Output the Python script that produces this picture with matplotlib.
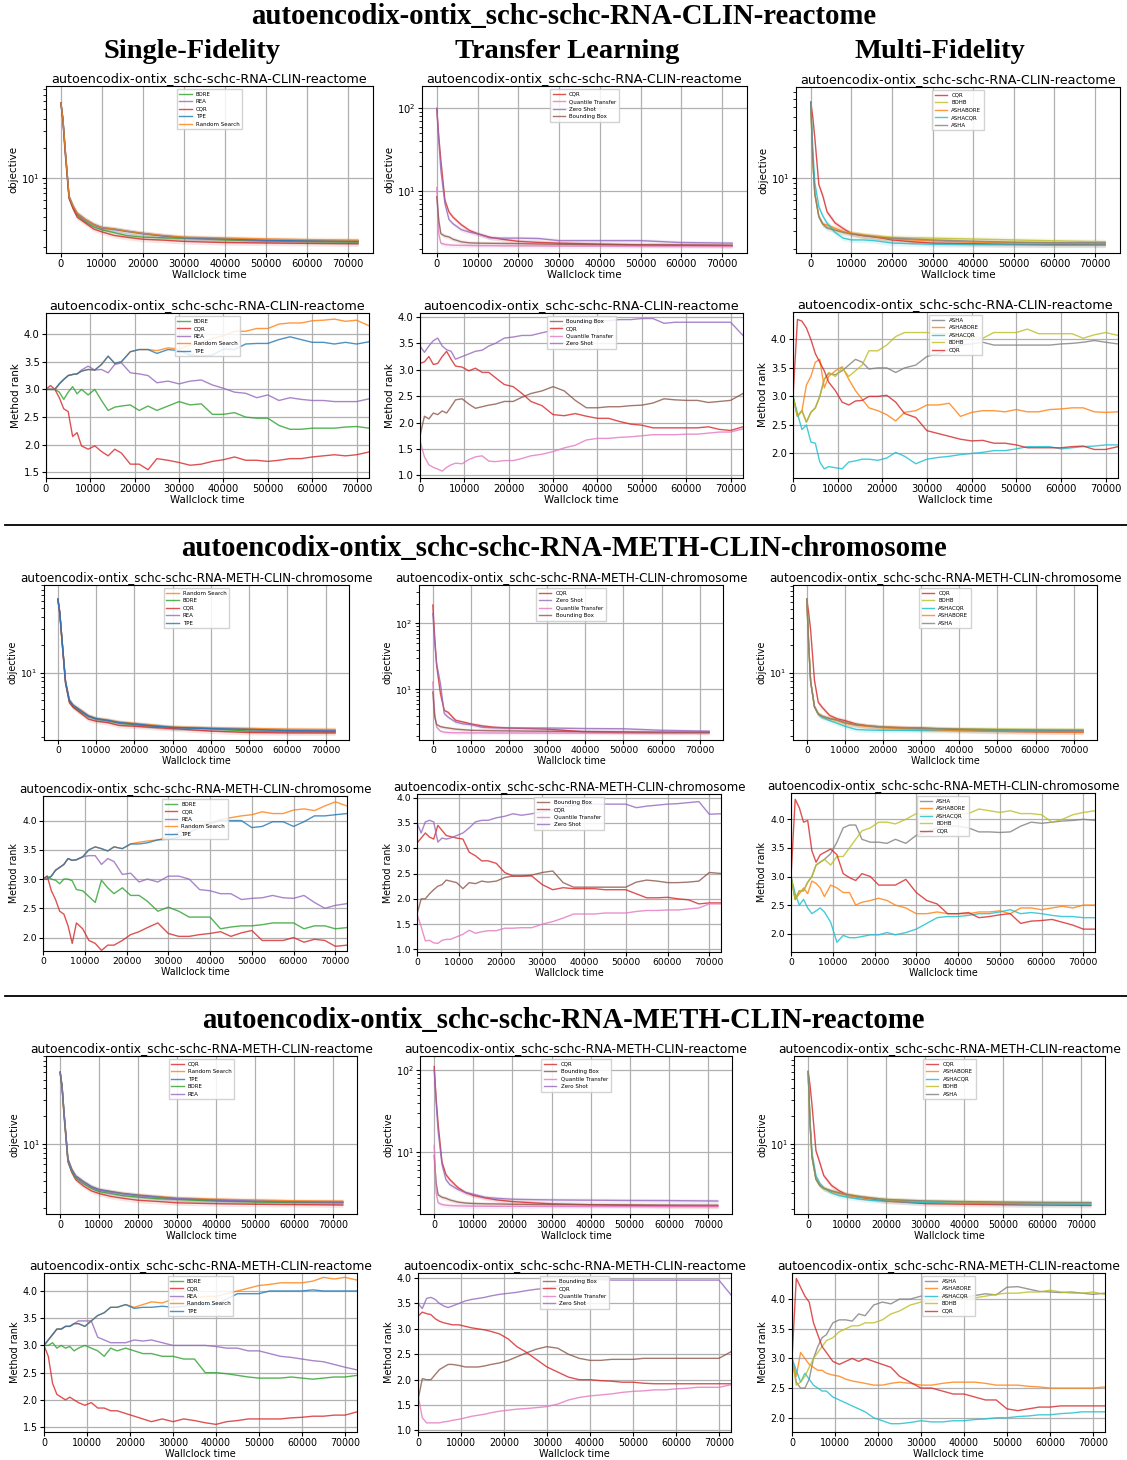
import matplotlib.pyplot as plt
from matplotlib.lines import Line2D

W, H = 1127, 1460

COLORS = {
    "TPE": "#1f77b4", "Random Search": "#ff7f0e", "BORE": "#2ca02c", "CQR": "#d62728",
    "REA": "#9467bd", "Bounding Box": "#8c564b", "Quantile Transfer": "#e377c2",
    "Zero Shot": "#9467bd", "ASHA": "#7f7f7f", "BOHB": "#bcbd22", "ASHACQR": "#17becf",
    "ASHABORE": "#ff7f0e",
}

datasets = [
    "autoencodix-ontix_schc-schc-RNA-CLIN-reactome",
    "autoencodix-ontix_schc-schc-RNA-METH-CLIN-chromosome",
    "autoencodix-ontix_schc-schc-RNA-METH-CLIN-reactome",
]
columns = ["Single-Fidelity", "Transfer Learning", "Multi-Fidelity"]

# time grids (seconds)
obj_t = [0, 500, 1000, 2000, 3000, 4000, 6000, 8000, 10000, 13000, 16000,
         20000, 25000, 30000, 40000, 50000, 60000, 72500]
rank_t = [0, 1000, 2000, 3000, 4000, 5000, 6000, 7000, 8000, 9500, 11000, 12500,
          14000, 15500, 17000, 19000, 21000, 23000, 25000, 27500, 30000, 32500,
          35000, 37500, 40000, 42500, 45000, 47500, 50000, 52500, 55000, 57500,
          60000, 62500, 65000, 67500, 70000, 72800]

# ---------------- RNA-CLIN-reactome ----------------
s1_sf_obj = {
    "BORE": [58, 39, 20, 6.3, 5.0, 4.2, 3.6, 3.2, 3.0, 2.8, 2.62, 2.52, 2.48, 2.45, 2.36, 2.3, 2.27, 2.24],
    "REA": [58, 40, 21, 6.5, 5.1, 4.3, 3.75, 3.35, 3.1, 3.0, 2.88, 2.72, 2.58, 2.48, 2.4, 2.33, 2.3, 2.27],
    "CQR": [58, 38, 19, 6.2, 4.85, 4.0, 3.5, 3.05, 2.85, 2.62, 2.52, 2.4, 2.35, 2.28, 2.22, 2.2, 2.18, 2.16],
    "TPE": [58, 40, 21, 6.5, 5.2, 4.4, 3.8, 3.4, 3.15, 3.05, 2.9, 2.75, 2.6, 2.5, 2.43, 2.35, 2.32, 2.3],
    "Random Search": [58, 40, 21, 6.5, 5.2, 4.4, 3.8, 3.4, 3.15, 3.05, 2.9, 2.75, 2.62, 2.52, 2.47, 2.42, 2.38, 2.35],
}
s1_tl_obj = {
    "CQR": [100, 45, 23.6, 7.7, 5.56, 4.8, 3.9, 3.33, 3.03, 2.75, 2.6, 2.45, 2.38, 2.33, 2.27, 2.22, 2.2, 2.17],
    "Quantile Transfer": [11, 3.0, 2.33, 2.25, 2.22, 2.2, 2.19, 2.18, 2.17, 2.17, 2.16, 2.16, 2.16, 2.15, 2.15, 2.15, 2.15, 2.15],
    "Zero Shot": [100, 40, 17.8, 7.0, 4.5, 4.0, 3.4, 3.17, 3.03, 2.7, 2.68, 2.68, 2.65, 2.5, 2.5, 2.5, 2.37, 2.33],
    "Bounding Box": [8.5, 4.4, 3.03, 2.84, 2.77, 2.6, 2.42, 2.35, 2.33, 2.32, 2.31, 2.3, 2.28, 2.26, 2.24, 2.22, 2.21, 2.2],
}
s1_mf_obj = {
    "CQR": [56, 40, 25, 8.6, 6.6, 4.65, 3.6, 3.17, 2.83, 2.7, 2.62, 2.45, 2.35, 2.28, 2.25, 2.22, 2.2, 2.2],
    "BOHB": [56, 15, 7.0, 4.15, 3.5, 3.3, 3.1, 2.95, 2.85, 2.75, 2.68, 2.6, 2.57, 2.55, 2.5, 2.45, 2.4, 2.35],
    "ASHABORE": [56, 15, 7.0, 4.15, 3.5, 3.45, 3.2, 2.95, 2.85, 2.72, 2.65, 2.5, 2.45, 2.4, 2.32, 2.3, 2.27, 2.25],
    "ASHACQR": [56, 20, 9.0, 5.2, 4.2, 3.6, 2.9, 2.55, 2.45, 2.45, 2.4, 2.28, 2.25, 2.22, 2.2, 2.19, 2.18, 2.18],
    "ASHA": [56, 15, 7.0, 4.15, 3.5, 3.2, 3.05, 2.9, 2.8, 2.7, 2.6, 2.55, 2.5, 2.45, 2.38, 2.33, 2.3, 2.3],
}
s1_sf_rank = {
    "BORE": [3.0, 3.0, 3.0, 2.95, 2.82, 2.95, 3.05, 2.92, 3.0, 2.9, 3.0, 2.8, 2.62, 2.68, 2.7, 2.72, 2.62, 2.7, 2.62,
             2.7, 2.78, 2.72, 2.74, 2.55, 2.55, 2.58, 2.5, 2.48, 2.48, 2.35, 2.28, 2.28, 2.3, 2.3, 2.3, 2.32, 2.33, 2.3],
    "CQR": [3.0, 3.07, 3.0, 2.85, 2.65, 2.6, 2.15, 2.22, 1.98, 1.92, 1.98, 1.88, 1.8, 1.92, 1.85, 1.65, 1.65, 1.55, 1.75,
            1.72, 1.68, 1.63, 1.65, 1.7, 1.73, 1.78, 1.72, 1.72, 1.7, 1.72, 1.75, 1.75, 1.78, 1.8, 1.82, 1.8, 1.82, 1.87],
    "REA": [3.0, 3.0, 3.0, 3.1, 3.18, 3.25, 3.27, 3.28, 3.35, 3.42, 3.35, 3.36, 3.3, 3.45, 3.48, 3.3, 3.28, 3.25, 3.12,
            3.15, 3.1, 3.15, 3.17, 3.08, 3.02, 2.95, 2.93, 2.85, 2.9, 2.8, 2.85, 2.82, 2.8, 2.8, 2.78, 2.78, 2.78, 2.83],
    "Random Search": [3.0, 3.0, 3.0, 3.1, 3.18, 3.25, 3.27, 3.28, 3.33, 3.36, 3.35, 3.45, 3.6, 3.47, 3.5, 3.68, 3.72,
                      3.72, 3.7, 3.75, 3.73, 3.8, 3.85, 3.92, 3.97, 4.05, 4.05, 4.1, 4.1, 4.18, 4.2, 4.2, 4.24, 4.25,
                      4.27, 4.23, 4.25, 4.15],
    "TPE": [3.0, 3.0, 3.0, 3.1, 3.18, 3.25, 3.27, 3.28, 3.33, 3.36, 3.35, 3.45, 3.6, 3.47, 3.5, 3.68, 3.72, 3.72, 3.65,
            3.72, 3.7, 3.62, 3.6, 3.62, 3.73, 3.72, 3.82, 3.83, 3.83, 3.9, 3.95, 3.9, 3.85, 3.85, 3.82, 3.85, 3.82, 3.86],
}
s1_tl_rank = {
    "Bounding Box": [1.75, 2.12, 2.07, 2.18, 2.15, 2.22, 2.18, 2.3, 2.43, 2.45, 2.35, 2.27, 2.3, 2.33, 2.35, 2.4, 2.4,
                     2.48, 2.55, 2.6, 2.68, 2.6, 2.42, 2.28, 2.28, 2.3, 2.3, 2.32, 2.33, 2.37, 2.45, 2.43, 2.42, 2.42,
                     2.38, 2.4, 2.42, 2.55],
    "CQR": [3.12, 3.15, 3.25, 3.1, 3.12, 3.25, 3.35, 3.2, 3.07, 3.05, 2.98, 3.03, 2.95, 2.95, 2.85, 2.72, 2.68, 2.55, 2.4,
            2.32, 2.15, 2.13, 2.17, 2.12, 2.08, 2.08, 2.02, 1.97, 1.95, 1.9, 1.9, 1.9, 1.9, 1.9, 1.92, 1.87, 1.85, 1.92],
    "Quantile Transfer": [1.65, 1.35, 1.2, 1.15, 1.12, 1.08, 1.15, 1.2, 1.23, 1.22, 1.3, 1.35, 1.37, 1.27, 1.26, 1.28,
                          1.28, 1.32, 1.37, 1.4, 1.45, 1.52, 1.57, 1.67, 1.7, 1.7, 1.72, 1.73, 1.75, 1.77, 1.77, 1.77,
                          1.78, 1.78, 1.8, 1.82, 1.82, 1.88],
    "Zero Shot": [3.45, 3.33, 3.45, 3.55, 3.6, 3.45, 3.38, 3.35, 3.2, 3.25, 3.3, 3.35, 3.37, 3.45, 3.5, 3.6, 3.62, 3.65,
                  3.65, 3.7, 3.75, 3.85, 3.9, 3.9, 3.92, 3.93, 3.95, 3.95, 3.97, 3.97, 3.88, 3.9, 3.9, 3.9, 3.9, 3.9,
                  3.9, 3.65],
}
s1_mf_rank = {
    "ASHA": [3.0, 2.65, 2.75, 2.55, 2.72, 2.8, 3.0, 3.3, 3.4, 3.38, 3.45, 3.55, 3.65, 3.6, 3.48, 3.5, 3.5, 3.42, 3.5,
             3.55, 3.7, 3.75, 3.82, 3.9, 3.92, 3.95, 3.9, 3.9, 3.9, 3.9, 3.9, 3.9, 3.92, 3.93, 3.95, 3.98, 3.95, 3.92],
    "ASHABORE": [3.0, 2.65, 2.75, 3.2, 3.35, 3.6, 3.65, 3.15, 3.35, 3.45, 3.52, 3.3, 3.1, 2.95, 2.8, 2.75, 2.68, 2.57,
                 2.72, 2.75, 2.85, 2.85, 2.88, 2.65, 2.72, 2.75, 2.75, 2.73, 2.77, 2.73, 2.73, 2.77, 2.78, 2.8, 2.8,
                 2.73, 2.72, 2.73],
    "ASHACQR": [3.0, 2.7, 2.42, 2.5, 2.2, 2.18, 1.85, 1.73, 1.77, 1.75, 1.73, 1.85, 1.87, 1.9, 1.9, 1.88, 1.92, 2.02,
                1.95, 1.82, 1.9, 1.93, 1.95, 1.98, 2.0, 2.02, 2.05, 2.05, 2.08, 2.12, 2.12, 2.12, 2.08, 2.1, 2.12,
                2.13, 2.15, 2.15],
    "BOHB": [3.0, 2.65, 2.75, 2.55, 2.72, 2.8, 3.0, 3.3, 3.42, 3.35, 3.5, 3.35, 3.45, 3.55, 3.8, 3.8, 3.9, 4.05, 4.12,
             4.12, 4.12, 4.1, 4.1, 4.05, 4.05, 4.02, 4.12, 4.12, 4.12, 4.18, 4.1, 4.1, 4.1, 4.1, 4.02, 4.08, 4.12, 4.07],
    "CQR": [3.0, 4.35, 4.32, 4.2, 4.0, 3.75, 3.6, 3.45, 3.25, 3.1, 2.9, 2.85, 2.92, 2.93, 3.0, 3.0, 3.02, 2.9, 2.7,
            2.63, 2.4, 2.35, 2.3, 2.25, 2.22, 2.23, 2.18, 2.18, 2.15, 2.1, 2.1, 2.1, 2.1, 2.12, 2.13, 2.07, 2.07, 2.12],
}

# ---------------- RNA-METH-CLIN-chromosome ----------------
s2_sf_obj = {
    "Random Search": [63, 45, 25, 8.0, 5.0, 4.4, 3.9, 3.4, 3.15, 3.05, 2.9, 2.8, 2.68, 2.55, 2.5, 2.46, 2.42, 2.4],
    "BORE": [63, 45, 25, 7.8, 4.8, 4.2, 3.7, 3.3, 3.1, 2.98, 2.8, 2.7, 2.6, 2.52, 2.44, 2.3, 2.28, 2.27],
    "CQR": [63, 44, 24, 7.6, 4.7, 4.2, 3.6, 3.1, 2.95, 2.85, 2.65, 2.6, 2.52, 2.45, 2.3, 2.22, 2.2, 2.2],
    "REA": [63, 45, 25, 8.0, 5.0, 4.4, 3.8, 3.35, 3.12, 3.0, 2.85, 2.75, 2.62, 2.52, 2.45, 2.4, 2.35, 2.33],
    "TPE": [63, 45, 25, 8.0, 5.0, 4.4, 3.85, 3.35, 3.15, 3.02, 2.85, 2.75, 2.62, 2.52, 2.45, 2.4, 2.33, 2.3],
}
s2_tl_obj = {
    "CQR": [190, 62, 23, 8.6, 4.8, 4.5, 3.4, 3.2, 3.0, 2.8, 2.67, 2.6, 2.55, 2.5, 2.27, 2.22, 2.2, 2.2],
    "Zero Shot": [142, 50, 24.5, 12.2, 4.3, 3.8, 3.2, 3.0, 2.93, 2.67, 2.62, 2.6, 2.6, 2.6, 2.55, 2.53, 2.4, 2.33],
    "Quantile Transfer": [12.9, 4.3, 2.67, 2.33, 2.25, 2.22, 2.2, 2.2, 2.19, 2.19, 2.18, 2.18, 2.18, 2.18, 2.18, 2.18, 2.18, 2.18],
    "Bounding Box": [9.1, 3.8, 2.93, 2.73, 2.65, 2.6, 2.5, 2.45, 2.4, 2.38, 2.36, 2.35, 2.33, 2.32, 2.3, 2.28, 2.26, 2.25],
}
s2_mf_obj = {
    "CQR": [65, 45, 29.5, 8.2, 4.7, 4.15, 3.36, 3.08, 2.95, 2.7, 2.58, 2.5, 2.47, 2.45, 2.33, 2.25, 2.22, 2.2],
    "BOHB": [65, 20, 8.0, 4.2, 3.5, 3.3, 3.1, 3.0, 2.8, 2.65, 2.58, 2.5, 2.46, 2.42, 2.4, 2.38, 2.36, 2.35],
    "ASHACQR": [65, 20, 8.0, 4.2, 3.45, 3.2, 2.95, 2.75, 2.55, 2.35, 2.32, 2.3, 2.3, 2.29, 2.29, 2.28, 2.28, 2.28],
    "ASHABORE": [65, 20, 8.0, 4.2, 3.5, 3.3, 3.1, 2.95, 2.75, 2.62, 2.55, 2.45, 2.4, 2.36, 2.28, 2.24, 2.22, 2.2],
    "ASHA": [65, 20, 8.0, 4.2, 3.5, 3.3, 3.1, 3.0, 2.8, 2.65, 2.58, 2.5, 2.45, 2.42, 2.38, 2.34, 2.32, 2.3],
}
s2_sf_rank = {
    "BORE": [3.0, 3.05, 3.0, 2.98, 2.92, 3.0, 3.0, 2.97, 2.82, 2.8, 2.7, 2.6, 2.98, 2.85, 2.75, 2.85, 2.72, 2.72, 2.62,
             2.45, 2.52, 2.45, 2.35, 2.35, 2.35, 2.15, 2.18, 2.2, 2.2, 2.22, 2.25, 2.25, 2.25, 2.15, 2.2, 2.2, 2.15, 2.17],
    "CQR": [3.0, 3.05, 2.8, 2.65, 2.45, 2.4, 2.2, 1.9, 2.25, 2.15, 1.95, 1.9, 1.78, 1.87, 1.87, 1.95, 2.05, 2.1, 2.17,
            2.25, 2.07, 2.02, 2.02, 2.05, 2.07, 2.1, 2.02, 2.08, 2.12, 1.95, 1.95, 1.95, 2.0, 1.92, 1.97, 1.95, 1.85, 1.87],
    "REA": [3.0, 3.0, 3.05, 3.15, 3.2, 3.25, 3.35, 3.32, 3.33, 3.38, 3.4, 3.4, 3.25, 3.35, 3.3, 3.08, 3.1, 2.95, 3.0,
            2.95, 3.05, 3.05, 3.0, 2.82, 2.8, 2.75, 2.75, 2.65, 2.67, 2.68, 2.72, 2.68, 2.67, 2.72, 2.6, 2.5, 2.55, 2.58],
    "Random Search": [3.0, 3.0, 3.05, 3.15, 3.2, 3.25, 3.35, 3.32, 3.33, 3.38, 3.5, 3.55, 3.52, 3.48, 3.55, 3.52, 3.6,
                      3.63, 3.65, 3.67, 3.72, 3.8, 3.88, 3.92, 3.97, 4.02, 4.05, 4.08, 4.1, 4.15, 4.12, 4.12, 4.18,
                      4.2, 4.17, 4.25, 4.32, 4.25],
    "TPE": [3.0, 3.0, 3.05, 3.15, 3.2, 3.25, 3.35, 3.32, 3.33, 3.38, 3.5, 3.55, 3.52, 3.48, 3.55, 3.52, 3.6, 3.6, 3.62,
            3.67, 3.68, 3.72, 3.8, 3.88, 3.95, 4.0, 4.0, 4.0, 3.88, 3.9, 3.98, 3.98, 3.9, 3.98, 4.08, 4.08, 4.1, 4.12],
}
s2_tl_rank = {
    "Bounding Box": [1.7, 2.0, 2.0, 2.1, 2.18, 2.25, 2.28, 2.37, 2.35, 2.32, 2.2, 2.32, 2.3, 2.35, 2.33, 2.35, 2.42,
                     2.45, 2.45, 2.47, 2.52, 2.55, 2.32, 2.23, 2.23, 2.23, 2.23, 2.23, 2.23, 2.33, 2.37, 2.35, 2.32,
                     2.32, 2.33, 2.35, 2.52, 2.5],
    "CQR": [3.1, 3.2, 3.3, 3.22, 3.18, 3.45, 3.35, 3.25, 3.23, 3.2, 3.18, 2.92, 2.85, 2.75, 2.75, 2.7, 2.52, 2.45, 2.45,
            2.45, 2.28, 2.18, 2.22, 2.2, 2.2, 2.2, 2.18, 2.18, 2.18, 2.1, 2.02, 2.02, 2.03, 2.0, 1.98, 1.9, 1.92, 1.92],
    "Quantile Transfer": [1.7, 1.45, 1.17, 1.18, 1.13, 1.12, 1.18, 1.2, 1.2, 1.25, 1.3, 1.38, 1.32, 1.35, 1.37, 1.37,
                          1.42, 1.42, 1.43, 1.43, 1.5, 1.55, 1.62, 1.7, 1.7, 1.7, 1.72, 1.72, 1.72, 1.75, 1.77, 1.77,
                          1.78, 1.78, 1.8, 1.82, 1.9, 1.9],
    "Zero Shot": [3.5, 3.3, 3.52, 3.55, 3.52, 3.12, 3.2, 3.18, 3.2, 3.25, 3.3, 3.4, 3.52, 3.55, 3.55, 3.6, 3.63, 3.68,
                  3.65, 3.68, 3.72, 3.75, 3.82, 3.85, 3.85, 3.87, 3.87, 3.87, 3.87, 3.8, 3.83, 3.85, 3.87, 3.88, 3.9,
                  3.92, 3.67, 3.68],
}
s2_mf_rank = {
    "ASHA": [3.0, 2.6, 2.75, 2.75, 2.9, 3.0, 3.2, 3.25, 3.3, 3.4, 3.6, 3.85, 3.9, 3.9, 3.65, 3.6, 3.6, 3.58, 3.65,
             3.58, 3.72, 3.78, 3.85, 3.88, 3.88, 3.85, 3.78, 3.78, 3.77, 3.78, 3.88, 3.95, 3.93, 3.95, 3.97, 3.98,
             4.0, 3.98],
    "ASHABORE": [3.0, 2.6, 2.7, 2.8, 2.7, 2.92, 2.88, 2.8, 2.65, 2.85, 2.8, 2.72, 2.72, 2.5, 2.55, 2.58, 2.62, 2.58,
                 2.5, 2.45, 2.35, 2.35, 2.38, 2.35, 2.35, 2.35, 2.38, 2.38, 2.4, 2.35, 2.45, 2.45, 2.42, 2.45, 2.48,
                 2.45, 2.5, 2.5],
    "ASHACQR": [3.0, 2.7, 2.5, 2.6, 2.45, 2.35, 2.4, 2.45, 2.38, 2.2, 1.85, 1.97, 1.93, 1.93, 1.95, 1.98, 1.98, 2.02,
                1.98, 2.02, 2.08, 2.18, 2.28, 2.3, 2.3, 2.32, 2.35, 2.35, 2.38, 2.42, 2.35, 2.37, 2.35, 2.32, 2.3,
                2.3, 2.28, 2.28],
    "BOHB": [3.0, 2.6, 2.75, 2.75, 2.9, 3.0, 3.2, 3.25, 3.3, 3.2, 3.35, 3.35, 3.5, 3.65, 3.8, 3.85, 3.95, 3.95, 3.92,
             4.0, 4.1, 4.08, 4.08, 4.15, 4.1, 4.1, 4.18, 4.15, 4.12, 4.15, 4.1, 4.1, 4.08, 3.95, 4.0, 4.08, 4.12, 4.15],
    "CQR": [3.0, 4.35, 4.2, 3.95, 3.98, 3.45, 3.25, 3.38, 3.42, 3.48, 3.38, 3.05, 2.98, 2.93, 3.05, 3.0, 2.85, 2.85,
            2.85, 2.95, 2.72, 2.58, 2.52, 2.35, 2.35, 2.37, 2.28, 2.3, 2.33, 2.35, 2.18, 2.22, 2.23, 2.25, 2.2, 2.15,
            2.08, 2.08],
}

# ---------------- RNA-METH-CLIN-reactome ----------------
s3_sf_obj = {
    "CQR": [60, 40, 20, 6.4, 4.9, 4.1, 3.5, 3.1, 2.9, 2.7, 2.58, 2.45, 2.38, 2.3, 2.25, 2.22, 2.2, 2.18],
    "Random Search": [60, 42, 22, 6.8, 5.3, 4.5, 3.9, 3.45, 3.2, 3.05, 2.92, 2.8, 2.7, 2.6, 2.52, 2.47, 2.42, 2.4],
    "TPE": [60, 42, 22, 6.8, 5.3, 4.5, 3.9, 3.45, 3.2, 3.05, 2.9, 2.78, 2.65, 2.55, 2.45, 2.38, 2.35, 2.33],
    "BORE": [60, 41, 21, 6.5, 5.0, 4.3, 3.7, 3.3, 3.05, 2.9, 2.75, 2.65, 2.55, 2.5, 2.4, 2.35, 2.32, 2.3],
    "REA": [60, 42, 22, 6.8, 5.2, 4.4, 3.85, 3.4, 3.15, 3.0, 2.88, 2.75, 2.65, 2.55, 2.47, 2.4, 2.36, 2.33],
}
s3_tl_obj = {
    "CQR": [110, 45, 22, 7.5, 5.3, 4.6, 3.7, 3.2, 2.95, 2.75, 2.6, 2.48, 2.4, 2.33, 2.27, 2.23, 2.2, 2.18],
    "Bounding Box": [9.0, 4.2, 3.0, 2.8, 2.72, 2.6, 2.45, 2.38, 2.35, 2.33, 2.32, 2.3, 2.29, 2.28, 2.27, 2.26, 2.25, 2.24],
    "Quantile Transfer": [12, 3.2, 2.4, 2.28, 2.24, 2.22, 2.2, 2.19, 2.18, 2.18, 2.17, 2.17, 2.17, 2.16, 2.16, 2.16, 2.16, 2.16],
    "Zero Shot": [100, 40, 18, 7.0, 4.6, 4.0, 3.5, 3.2, 3.05, 2.8, 2.72, 2.65, 2.62, 2.6, 2.58, 2.56, 2.55, 2.52],
}
s3_mf_obj = {
    "CQR": [60, 42, 26, 8.5, 6.3, 4.6, 3.6, 3.15, 2.85, 2.7, 2.6, 2.45, 2.38, 2.3, 2.27, 2.24, 2.22, 2.2],
    "ASHABORE": [60, 16, 7.2, 4.2, 3.6, 3.35, 3.1, 2.95, 2.82, 2.7, 2.62, 2.52, 2.47, 2.42, 2.38, 2.35, 2.33, 2.32],
    "ASHACQR": [60, 18, 8.0, 4.6, 3.8, 3.4, 3.0, 2.8, 2.7, 2.58, 2.5, 2.45, 2.4, 2.36, 2.33, 2.3, 2.28, 2.27],
    "BOHB": [60, 16, 7.2, 4.2, 3.6, 3.35, 3.15, 3.0, 2.88, 2.75, 2.65, 2.55, 2.5, 2.45, 2.4, 2.38, 2.36, 2.35],
    "ASHA": [60, 16, 7.2, 4.2, 3.6, 3.35, 3.15, 3.0, 2.88, 2.75, 2.65, 2.55, 2.5, 2.46, 2.42, 2.39, 2.37, 2.36],
}
s3_sf_rank = {
    "BORE": [3.0, 3.0, 3.05, 2.95, 3.0, 2.95, 2.98, 2.9, 2.95, 3.0, 2.95, 2.9, 2.8, 2.95, 2.9, 2.95, 2.9, 2.85, 2.85,
             2.8, 2.8, 2.75, 2.75, 2.5, 2.5, 2.48, 2.45, 2.42, 2.4, 2.4, 2.4, 2.42, 2.4, 2.38, 2.4, 2.42, 2.42, 2.45],
    "CQR": [3.0, 2.8, 2.3, 2.1, 2.05, 2.0, 2.05, 2.0, 1.95, 1.9, 1.95, 1.85, 1.85, 1.8, 1.8, 1.75, 1.7, 1.65, 1.6, 1.65,
            1.6, 1.65, 1.62, 1.58, 1.55, 1.6, 1.62, 1.65, 1.65, 1.65, 1.65, 1.67, 1.68, 1.7, 1.7, 1.72, 1.72, 1.78],
    "REA": [3.0, 3.1, 3.2, 3.3, 3.3, 3.35, 3.35, 3.4, 3.45, 3.45, 3.45, 3.15, 3.1, 3.05, 3.05, 3.05, 3.1, 3.08, 3.1,
            3.05, 3.0, 3.0, 3.0, 3.0, 2.98, 2.95, 2.95, 2.9, 2.9, 2.85, 2.8, 2.78, 2.75, 2.72, 2.7, 2.65, 2.6, 2.55],
    "Random Search": [3.0, 3.1, 3.2, 3.3, 3.3, 3.35, 3.35, 3.4, 3.4, 3.35, 3.45, 3.55, 3.6, 3.7, 3.7, 3.75, 3.7, 3.75,
                      3.8, 3.78, 3.85, 3.88, 3.88, 3.9, 3.9, 3.95, 4.0, 4.05, 4.1, 4.12, 4.15, 4.15, 4.15, 4.18, 4.25,
                      4.22, 4.25, 4.2],
    "TPE": [3.0, 3.1, 3.2, 3.3, 3.3, 3.35, 3.35, 3.4, 3.4, 3.35, 3.45, 3.55, 3.6, 3.7, 3.7, 3.75, 3.68, 3.7, 3.7, 3.72,
            3.7, 3.72, 3.75, 3.75, 3.75, 3.85, 3.95, 3.95, 3.95, 4.0, 4.0, 4.0, 4.0, 4.02, 4.0, 4.0, 4.0, 4.0],
}
s3_tl_rank = {
    "Bounding Box": [1.6, 2.02, 2.0, 2.0, 2.1, 2.2, 2.25, 2.3, 2.3, 2.28, 2.25, 2.25, 2.25, 2.27, 2.3, 2.33, 2.38,
                     2.45, 2.52, 2.6, 2.65, 2.62, 2.5, 2.42, 2.38, 2.38, 2.4, 2.4, 2.4, 2.42, 2.42, 2.42, 2.42, 2.42,
                     2.42, 2.42, 2.42, 2.55],
    "CQR": [3.25, 3.33, 3.3, 3.28, 3.2, 3.15, 3.12, 3.1, 3.08, 3.08, 3.05, 3.02, 3.0, 2.98, 2.95, 2.9, 2.8, 2.65, 2.55,
            2.4, 2.25, 2.15, 2.05, 2.0, 2.0, 1.98, 1.97, 1.95, 1.95, 1.93, 1.92, 1.92, 1.92, 1.92, 1.92, 1.92, 1.92,
            1.92],
    "Quantile Transfer": [1.7, 1.25, 1.15, 1.15, 1.15, 1.15, 1.17, 1.18, 1.2, 1.22, 1.25, 1.28, 1.3, 1.32, 1.35, 1.38,
                          1.4, 1.42, 1.43, 1.45, 1.47, 1.52, 1.6, 1.65, 1.68, 1.7, 1.72, 1.75, 1.77, 1.78, 1.8, 1.8,
                          1.82, 1.83, 1.85, 1.85, 1.85, 1.9],
    "Zero Shot": [3.5, 3.4, 3.6, 3.62, 3.58, 3.5, 3.45, 3.42, 3.45, 3.5, 3.55, 3.58, 3.6, 3.62, 3.65, 3.68, 3.7, 3.72,
                  3.75, 3.78, 3.8, 3.85, 3.9, 3.95, 3.98, 3.97, 3.96, 3.96, 3.96, 3.96, 3.96, 3.96, 3.96, 3.96, 3.96,
                  3.96, 3.96, 3.67],
}
s3_mf_rank = {
    "ASHA": [3.0, 2.6, 2.5, 2.5, 2.65, 3.0, 3.2, 3.35, 3.4, 3.6, 3.65, 3.65, 3.63, 3.75, 3.72, 3.9, 3.95, 3.92, 4.0,
             4.0, 4.05, 4.04, 4.04, 4.05, 4.03, 4.06, 4.09, 4.07, 4.2, 4.21, 4.17, 4.13, 4.12, 4.11, 4.12, 4.1, 4.08, 4.1],
    "ASHABORE": [3.0, 2.7, 3.1, 3.0, 2.9, 2.85, 2.8, 2.8, 2.75, 2.72, 2.7, 2.65, 2.62, 2.6, 2.58, 2.55, 2.55, 2.58,
                 2.6, 2.58, 2.55, 2.55, 2.58, 2.6, 2.6, 2.6, 2.58, 2.55, 2.55, 2.55, 2.53, 2.52, 2.5, 2.5, 2.5, 2.5,
                 2.5, 2.52],
    "ASHACQR": [3.0, 2.8, 2.6, 2.75, 2.65, 2.55, 2.5, 2.45, 2.45, 2.35, 2.3, 2.25, 2.2, 2.15, 2.1, 2.0, 1.95, 1.9, 1.9,
                1.92, 1.95, 1.93, 1.93, 1.95, 1.95, 1.97, 1.98, 2.0, 2.0, 2.02, 2.03, 2.05, 2.05, 2.07, 2.08, 2.1,
                2.1, 2.1],
    "BOHB": [3.0, 2.55, 2.6, 2.7, 2.85, 3.0, 3.1, 3.2, 3.3, 3.35, 3.45, 3.5, 3.55, 3.55, 3.6, 3.6, 3.65, 3.75, 3.8, 3.9,
             3.95, 3.98, 4.0, 4.0, 4.02, 4.02, 4.05, 4.08, 4.1, 4.1, 4.12, 4.12, 4.15, 4.12, 4.1, 4.1, 4.12, 4.08],
    "CQR": [3.0, 4.35, 4.2, 4.05, 3.95, 3.6, 3.4, 3.2, 3.1, 2.95, 2.9, 2.95, 3.0, 2.95, 3.0, 2.95, 2.9, 2.85, 2.7, 2.6,
            2.5, 2.5, 2.45, 2.4, 2.4, 2.35, 2.3, 2.3, 2.15, 2.12, 2.15, 2.18, 2.18, 2.2, 2.2, 2.2, 2.2, 2.2],
}

# pixel boxes (left, top, right, bottom) for each row of panels; each block has its own text scale
sections = [
    dict(title_y=17, scale=1.0, obj=[s1_sf_obj, s1_tl_obj, s1_mf_obj], rank=[s1_sf_rank, s1_tl_rank, s1_mf_rank],
         obj_box=[(46, 86, 373, 253), (422, 86, 747, 253), (796, 87, 1120, 253)],
         rank_box=[(46, 313, 369, 478), (420, 313, 743, 478), (793, 312, 1118, 478)],
         obj_ylim=[(1.74, 86), (1.77, 187), (1.82, 79)],
         rank_ylim=[(1.40, 4.38), (0.95, 4.075), (1.57, 4.48)]),
    dict(title_y=549, scale=0.93, obj=[s2_sf_obj, s2_tl_obj, s2_mf_obj], rank=[s2_sf_rank, s2_tl_rank, s2_mf_rank],
         obj_box=[(44, 585, 349, 740), (419, 585, 723, 740), (793, 585, 1097, 740)],
         rank_box=[(43, 796, 347, 951), (417, 794, 721, 952), (791, 793, 1095, 952)],
         obj_ylim=[(1.84, 90), (1.71, 383), (1.8, 93)],
         rank_ylim=[(1.77, 4.42), (0.95, 4.07), (1.68, 4.46)]),
    dict(title_y=1020, scale=0.955, obj=[s3_sf_obj, s3_tl_obj, s3_mf_obj], rank=[s3_sf_rank, s3_tl_rank, s3_mf_rank],
         obj_box=[(46, 1056, 357, 1214), (420, 1056, 732, 1214), (794, 1056, 1105, 1214)],
         rank_box=[(44, 1273, 357, 1432), (418, 1273, 731, 1432), (792, 1273, 1105, 1432)],
         obj_ylim=[(1.74, 90), (1.75, 148), (1.78, 88)],
         rank_ylim=[(1.41, 4.33), (0.97, 4.1), (1.76, 4.44)]),
]

SPREAD = 0.06
plt.rcParams["font.family"] = ["DejaVu Sans"]
fig = plt.figure(figsize=(W / 100, H / 100), dpi=100)


def px_axes(box):
    l, t, r, b = box
    return fig.add_axes([l / W, 1 - b / H, (r - l) / W, (b - t) / H])


def style(ax, title, ylabel, s):
    ax.set_title(title, fontsize=9.2 * s, pad=2.5)
    ax.set_xlabel("Wallclock time", fontsize=7.4 * s, labelpad=0.5)
    ax.set_ylabel(ylabel, fontsize=7.4 * s, labelpad=2)
    ax.tick_params(labelsize=7.2 * s, length=3, pad=1.5)
    ax.grid(True, color="#b0b0b0", lw=0.9)
    ax.set_axisbelow(True)
    ax.legend(loc="upper center", fontsize=4.0, handlelength=2.2, labelspacing=0.45,
              borderpad=0.5, framealpha=0.85, fancybox=False, edgecolor="#cccccc")


for sec, name in zip(sections, datasets):
    fig.text(0.5, 1 - sec["title_y"] / H, name, ha="center", va="center",
             fontsize=20.7, fontweight="bold", family="Liberation Serif")
    s = sec["scale"]
    for k in range(3):
        ax = px_axes(sec["obj_box"][k])
        for method, vals in sec["obj"][k].items():
            c = COLORS[method]
            ax.fill_between(obj_t, [v * (1 - SPREAD) for v in vals], [v * (1 + SPREAD) for v in vals],
                            color=c, alpha=0.12, lw=0)
            ax.plot(obj_t, vals, color=c, lw=1.0, alpha=0.8, label=method)
        ax.set_yscale("log")
        ax.set_ylim(*sec["obj_ylim"][k])
        style(ax, name, "objective", s)

        ax = px_axes(sec["rank_box"][k])
        for method, vals in sec["rank"][k].items():
            ax.plot(rank_t, vals, color=COLORS[method], lw=1.0, alpha=0.8, label=method)
        ax.margins(x=0)
        ax.set_ylim(*sec["rank_ylim"][k])
        style(ax, name, "Method rank", s)

# column headers
for x, col in zip([192, 567, 940], columns):
    fig.text(x / W, 1 - 52 / H, col, ha="center", va="center", fontsize=20.5,
             fontweight="bold", family="Liberation Serif")

# separators between datasets
for y in [525, 996]:
    fig.add_artist(Line2D([5 / W, 1], [1 - y / H, 1 - y / H], transform=fig.transFigure, color="black", lw=1.3))

fig.savefig("out.png", dpi=100)
